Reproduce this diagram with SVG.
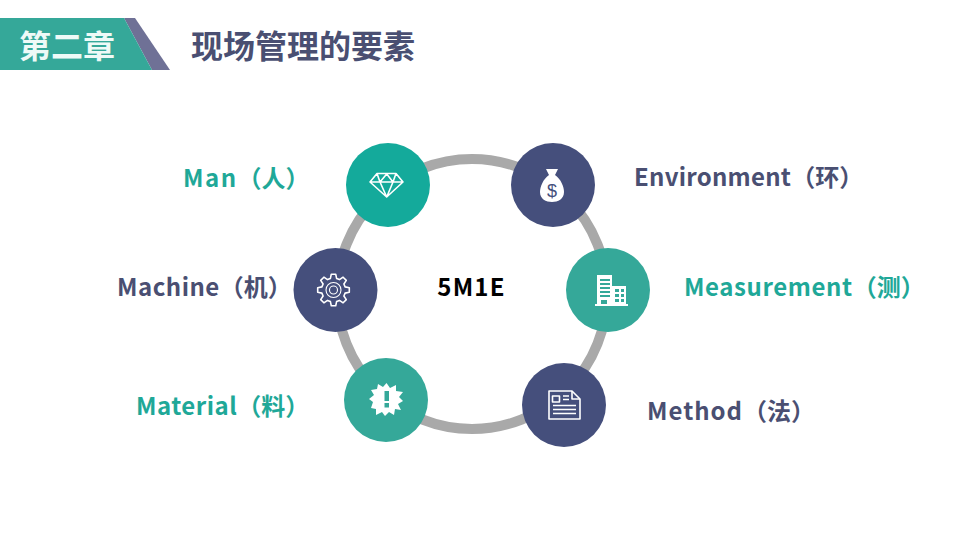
<svg xmlns="http://www.w3.org/2000/svg" width="960" height="540" viewBox="0 0 960 540">
<style>
text{font-family:"Noto Sans CJK SC","Noto Sans",sans-serif;font-weight:700}
.lb{font-size:24px}
.t{fill:#1fa898}.p{fill:#4a4f72}
.n1{fill:#14aa9b}.n2{fill:#454f7c}.n3{fill:#35a899}
.ic{fill:none;stroke:#fff;stroke-width:1.6;stroke-linejoin:round}
.fw{fill:#fff}
</style>
<rect width="960" height="540" fill="#fff"/>
<g id="header">
<polygon points="124,18 135,18 170,70 152,70" fill="#6f7196"/>
<polygon points="0,18 124,18 152,70 0,70" fill="#35a899"/>
<text x="19" y="58" font-size="32" fill="#eefaf7">第二章</text>
<text x="191" y="58" font-size="32" fill="#4a4f72">现场管理的要素</text>
</g>
<g id="connectors">
<circle cx="472" cy="294" r="135" fill="none" stroke="#a9a9a9" stroke-width="10"/>
</g>
<g id="center"><text x="471.500" y="296" font-size="24" letter-spacing="1.2" text-anchor="middle" fill="#000">5M1E</text></g>
<g id="node-man">
<circle class="n1" cx="388" cy="185" r="42"/>
<g class="ic" stroke-width="1.4">
<path d="M377 173.500H396L403 182L386.700 197L370 182ZM370 182H403M380 182L386.700 197L393 182M377 173.500L380 182L386.700 174L393 182L396 173.500"/>
</g>
<text class="lb t" x="183" y="187"><tspan letter-spacing="1.500">Man</tspan>（人）</text>
</g>
<g id="node-environment">
<circle class="n2" cx="553" cy="185" r="42"/>
<path class="fw" d="M546 169H558L555 175C561 179 564 187 564 192C564 199 558 202 552 202C546 202 540 199 540 192C540 187 543 179 549 175Z"/>
<text x="552" y="197" font-size="18" text-anchor="middle" fill="#454f7c" style="font-family:'Liberation Sans',sans-serif;font-weight:400">$</text>
<text class="lb p" x="634" y="186"><tspan letter-spacing="0.250">Environment</tspan>（环）</text>
</g>
<g id="node-measurement">
<circle class="n3" cx="608" cy="290" r="42"/>
<path class="fw" d="M597 275H612V286H626V304H628V306H595V304H597Z"/>
<g fill="#35a899">
<rect x="600" y="279" width="10" height="2"/><rect x="600" y="283" width="10" height="2"/><rect x="600" y="287" width="10" height="2"/><rect x="600" y="291" width="10" height="2"/><rect x="600" y="295" width="10" height="2"/>
<rect x="601" y="300" width="6" height="4"/>
<rect x="615" y="289" width="4" height="3"/><rect x="621" y="289" width="3" height="3"/>
<rect x="615" y="294" width="4" height="3"/><rect x="621" y="294" width="3" height="3"/>
<rect x="615" y="299" width="4" height="3"/><rect x="621" y="299" width="3" height="3"/>
</g>
<text class="lb t" x="684" y="296"><tspan letter-spacing="0.600">Measurement</tspan>（测）</text>
</g>
<g id="node-method">
<circle class="n2" cx="564" cy="405" r="42"/>
<g class="ic">
<path d="M549 391H572L580 399V419H549Z"/>
<path d="M572 391V399H580"/>
<rect x="552.500" y="396" width="7" height="6"/>
<path d="M563 396H569M563 399.500H569M553 405.500H576M553 409.500H576M553 413.500H576"/>
</g>
<text class="lb p" x="647" y="420"><tspan letter-spacing="1">Method</tspan>（法）</text>
</g>
<g id="node-material">
<circle class="n3" cx="386" cy="400" r="42"/>
<polygon class="fw" points="386.500,383 390,388 396,385 396,391 403,392 399,397 403,401 398,404 401,410 395,409 394,415 389,412 385,416 382,412 376,415 376,409 371,408 373,402 369,399 374,395 371,390 377,389 378,384 383,387"/>
<rect x="384.500" y="391" width="4.500" height="10" fill="#35a899"/>
<rect x="384.500" y="403" width="4.500" height="4.500" fill="#35a899"/>
<text class="lb t" x="136" y="415"><tspan letter-spacing="0.500">Material</tspan>（料）</text>
</g>
<g id="node-machine">
<circle class="n2" cx="335.500" cy="290" r="42"/>
<g class="ic" transform="translate(333.500 290)">
<polygon points="11.600,-3.100 15.800,-2.200 15.800,2.200 11.600,3.100 10.400,6 12.800,9.600 9.600,12.800 6,10.400 3.100,11.600 2.200,15.800 -2.200,15.800 -3.100,11.600 -6,10.400 -9.600,12.800 -12.800,9.600 -10.400,6 -11.600,3.100 -15.800,2.200 -15.800,-2.200 -11.600,-3.100 -10.400,-6 -12.800,-9.600 -9.600,-12.800 -6,-10.400 -3.100,-11.600 -2.200,-15.800 2.200,-15.800 3.100,-11.600 6,-10.400 9.600,-12.800 12.800,-9.600 10.400,-6"/>
<circle r="7.500" stroke-width="1.100"/><circle r="4" stroke-width="1.100"/>
</g>
<text class="lb p" x="117" y="296"><tspan letter-spacing="0.500">Machine</tspan>（机）</text>
</g>
</svg>
